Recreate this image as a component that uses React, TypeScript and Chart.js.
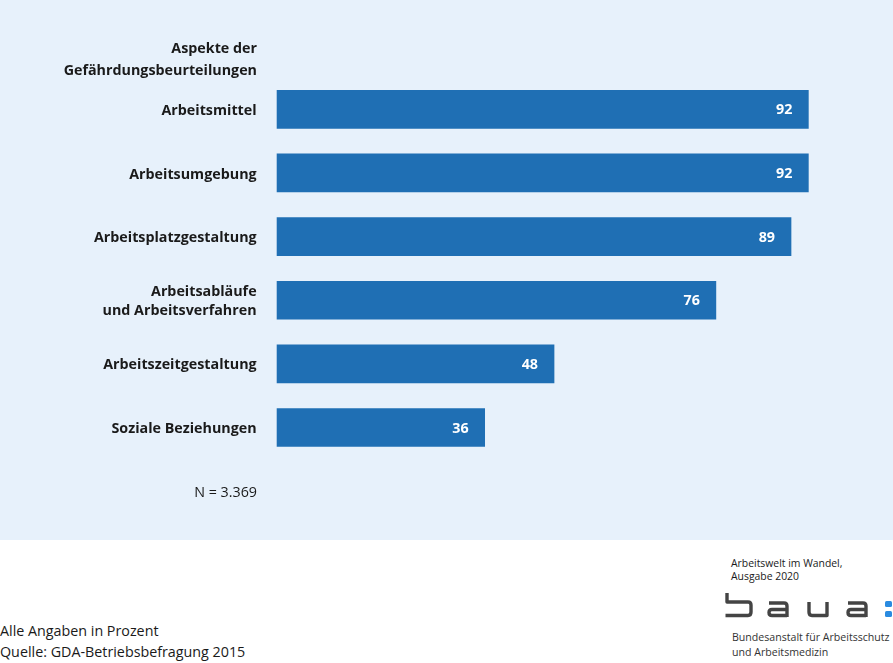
import React, { useEffect, useRef } from "react";
import { Chart, registerables } from "chart.js";

Chart.register(...registerables);

const categories: (string | string[])[] = [
  "Arbeitsmittel",
  "Arbeitsumgebung",
  "Arbeitsplatzgestaltung",
  ["Arbeitsabläufe", "und Arbeitsverfahren"],
  "Arbeitszeitgestaltung",
  "Soziale Beziehungen",
];
const values: number[] = [92, 92, 89, 76, 48, 36];
const axisTitle: string[] = ["Aspekte der", "Gefährdungsbeurteilungen"];
const sampleNote = "N = 3.369";
const footnotes: string[] = ["Alle Angaben in Prozent", "Quelle: GDA-Betriebsbefragung 2015"];
const publication: string[] = ["Arbeitswelt im Wandel,", "Ausgabe 2020"];
const institution: string[] = ["Bundesanstalt für Arbeitsschutz", "und Arbeitsmedizin"];

const FONT = "'Open Sans', 'DejaVu Sans', sans-serif";
const BG = "#E7F1FB";
const BAR = "#1F6FB4";
const TEXT = "#1a1a1a";
const FS = 14.3;

const valueLabels = {
  id: "valueLabels",
  afterDatasetsDraw(chart: any) {
    const ctx = chart.ctx;
    const meta = chart.getDatasetMeta(0);
    ctx.save();
    ctx.fillStyle = "#ffffff";
    ctx.font = `bold ${FS}px ${FONT}`;
    ctx.textAlign = "right";
    ctx.textBaseline = "middle";
    meta.data.forEach((bar: any, i: number) => {
      ctx.fillText(String(values[i]), bar.x - 16, bar.y + 1);
    });
    ctx.restore();
  },
};

function BarChart() {
  const ref = useRef<HTMLCanvasElement | null>(null);
  useEffect(() => {
    if (!ref.current) return;
    const chart = new Chart(ref.current, {
      type: "bar",
      data: {
        labels: categories as any,
        datasets: [
          {
            data: values,
            backgroundColor: BAR,
            borderWidth: 0,
            barThickness: 38,
          },
        ],
      },
      options: {
        indexAxis: "y",
        animation: false,
        responsive: false,
        events: [],
        layout: { padding: { left: 0, right: 38.4, top: 77.5, bottom: 80.7 } },
        plugins: { legend: { display: false }, tooltip: { enabled: false } },
        scales: {
          x: { display: false, min: 0, max: 100 },
          y: {
            grid: { display: false, drawTicks: false },
            border: { display: false },
            ticks: {
              padding: 20,
              labelOffset: 1.5,
              color: TEXT,
              font: { family: FONT, size: FS, weight: "bold", lineHeight: 1.33 },
            },
            afterFit(scale: any) {
              scale.width = 276.6;
            },
          },
        },
      },
      plugins: [valueLabels],
    });
    return () => chart.destroy();
  }, []);
  return <canvas ref={ref} width={893} height={540} style={{ display: "block" }} />;
}

function Logo() {
  const s = { fill: "none", stroke: "#444444", strokeWidth: 3.4, strokeLinecap: "butt" as const, strokeLinejoin: "round" as const };
  return (
    <svg width={893} height={663} style={{ position: "absolute", left: 0, top: 0, pointerEvents: "none" }}>
      {/* b */}
      <path {...s} d="M727,593 L727,602 L748,602 Q751,602 751,605 L751,612 Q751,615.5 748,615.5 L725.5,615.5" />
      {/* a */}
      <path {...s} d="M769,603 L784,603 Q787,603 787,606 L787,617 M787,609.5 L772,609.5 Q769,609.5 769,612.5 Q769,615.5 772,615.5 L787,615.5" />
      {/* u */}
      <path {...s} d="M809,602 L809,612 Q809,615.5 812,615.5 L827,615.5 L827,602" />
      {/* a */}
      <path {...s} d="M848,603 L863,603 Q866,603 866,606 L866,617 M866,609.5 L851,609.5 Q848,609.5 848,612.5 Q848,615.5 851,615.5 L866,615.5" />
      {/* : */}
      <rect x={885} y={601} width={7} height={6} rx={1.5} fill="#2A8BE0" />
      <rect x={885} y={611} width={7} height={6} rx={1.5} fill="#2A8BE0" />
    </svg>
  );
}

export default function App() {
  useEffect(() => {
    document.body.style.margin = "0";
  }, []);
  const abs = (extra: React.CSSProperties): React.CSSProperties => ({
    position: "absolute",
    fontFamily: FONT,
    color: TEXT,
    whiteSpace: "nowrap",
    ...extra,
  });
  return (
    <div style={{ position: "relative", width: 893, height: 663, background: "#ffffff", overflow: "hidden" }}>
      <div style={{ position: "absolute", left: 0, top: 0, width: 893, height: 540, background: BG }}>
        <BarChart />
      </div>
      <div style={abs({ left: 0, top: 37, width: 257, textAlign: "right", fontSize: FS, fontWeight: 700, lineHeight: "22px" })}>
        {axisTitle.map((t) => (
          <div key={t}>{t}</div>
        ))}
      </div>
      <div style={abs({ left: 0, top: 481, width: 257, textAlign: "right", fontSize: FS, lineHeight: "22px" })}>{sampleNote}</div>
      <div style={abs({ left: 0, top: 619.5, fontSize: FS, lineHeight: "21px" })}>
        {footnotes.map((t) => (
          <div key={t}>{t}</div>
        ))}
      </div>
      <div style={abs({ left: 731, top: 556.5, fontSize: 10.4, lineHeight: "13px" })}>
        {publication.map((t) => (
          <div key={t}>{t}</div>
        ))}
      </div>
      <div style={abs({ left: 732, top: 629.5, fontSize: 10.6, lineHeight: "15px", color: "#333" })}>
        {institution.map((t) => (
          <div key={t}>{t}</div>
        ))}
      </div>
      <Logo />
    </div>
  );
}
